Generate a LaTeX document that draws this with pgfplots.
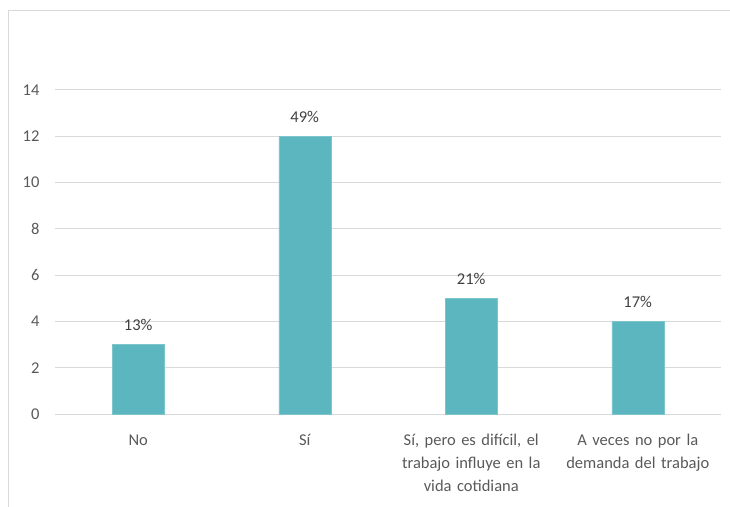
\documentclass[border=0pt]{standalone}
\usepackage{fontspec}
\setmainfont{Carlito}
\usepackage{pgfplots}
\pgfplotsset{compat=1.18}
\definecolor{barteal}{RGB}{91,182,192}
\definecolor{gridgray}{RGB}{217,217,217}
\definecolor{labelgray}{RGB}{89,89,89}
\definecolor{valgray}{RGB}{64,64,64}
\begin{document}
\begin{tikzpicture}[x=1pt,y=1pt]
\useasboundingbox (0,0) rectangle (730,506);
% chart area frame
\draw[gridgray,line width=1pt] (8,-10) -- (8,495) -- (740,495);
\begin{axis}[
  at={(55pt,92pt)}, anchor=south west,
  scale only axis, width=666pt, height=324pt,
  xmin=-0.5, xmax=3.5, ymin=0, ymax=14,
  ytick={0,2,...,14},
  xtick={0,1,2,3},
  xticklabels={No, Sí, {Sí, pero es difícil, el\\trabajo influye en la\\vida cotidiana}, {A veces no por la\\demanda del trabajo}},
  xticklabel style={align=center, text width=170pt, font=\fontsize{16.5}{23}\selectfont, text=labelgray, anchor=north, yshift=-17pt},
  yticklabel style={font=\fontsize{16.5}{18}\selectfont, text=labelgray, xshift=-12pt},
  /pgf/number format/assume math mode=true,
  ymajorgrids, grid style={gridgray, line width=1pt},
  axis line style={draw=none},
  major tick length=0pt,
  ybar, bar width=52pt,
  nodes near coords,
  point meta=explicit symbolic,
  every node near coord/.append style={font=\fontsize{16.5}{18}\selectfont, text=valgray, yshift=10pt},
  clip=false,
]
\addplot[fill=barteal, draw=barteal!80!white] coordinates {
  (0,3) [13\%]
  (1,12) [49\%]
  (2,5) [21\%]
  (3,4) [17\%]
};
\end{axis}
\end{tikzpicture}
\end{document}
